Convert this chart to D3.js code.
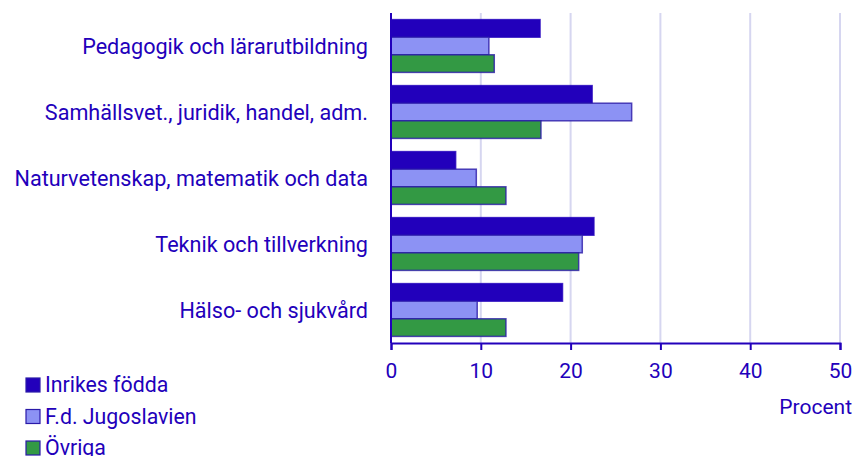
<!DOCTYPE html>
<html>
<head>
<meta charset="utf-8">
<script src="https://cdn.jsdelivr.net/npm/d3@7"></script>
<style>
  body { margin: 0; background: #fff; }
  text { font-family: Roboto, sans-serif; }
</style>
</head>
<body>
<svg id="chart" width="855" height="456"></svg>
<script>
// data
var categories = ["Pedagogik och lärarutbildning", "Samhällsvet., juridik, handel, adm.",
                  "Naturvetenskap, matematik och data", "Teknik och tillverkning", "Hälso- och sjukvård"];
var seriesNames = ["Inrikes födda", "F.d. Jugoslavien", "Övriga"];
var inrikes = [16.6, 22.4, 7.2, 22.6, 19.1];
var jugoslavien = [10.9, 26.8, 9.5, 21.3, 9.6];
var ovriga = [11.5, 16.7, 12.8, 20.9, 12.8];
var xTicks = [0, 10, 20, 30, 40, 50];

var colors = ["#2200bb", "#8c92f4", "#339944"],
    ink = "#2200bb",
    grid = "#d6d6f0",
    fontSize = "21px";

var svg = d3.select("#chart");
var plotLeft = 391, plotRight = 840, plotTop = 13, plotBottom = 343;

var x = d3.scaleLinear().domain([0, 50]).range([plotLeft, plotRight]);
var y = d3.scaleBand().domain(categories).range([plotTop, plotBottom])
    .paddingInner(0.2).paddingOuter(0.1);
var ySub = d3.scaleBand().domain(seriesNames).range([0, y.bandwidth()]);

var values = [inrikes, jugoslavien, ovriga];

// grid
svg.append("g").selectAll("line")
    .data(xTicks.slice(1))
    .join("line")
    .attr("x1", function(d) { return x(d); })
    .attr("x2", function(d) { return x(d); })
    .attr("y1", plotTop)
    .attr("y2", plotBottom)
    .style("stroke", grid)
    .style("stroke-width", 2);

// bars
categories.forEach(function(c, i) {
    var g = svg.append("g").attr("transform", "translate(0," + y(c) + ")");
    seriesNames.forEach(function(s, j) {
        g.append("rect")
            .attr("x", x(0))
            .attr("y", ySub(s))
            .attr("width", x(values[j][i]) - x(0))
            .attr("height", ySub.bandwidth())
            .style("fill", colors[j])
            .style("stroke", j == 0 ? colors[0] : "#2a1aa8")
            .style("stroke-width", 1.5)
            .style("stroke-opacity", 0.8);
    });
    svg.append("text")
        .attr("x", 368)
        .attr("y", y(c) + y.bandwidth() / 2)
        .attr("dy", "0.35em")
        .attr("text-anchor", "end")
        .style("fill", ink)
        .style("font-size", "21.6px")
        .text(c);
});

// axes
svg.append("line")
    .attr("x1", x(0)).attr("x2", x(0))
    .attr("y1", plotTop).attr("y2", plotBottom)
    .style("stroke", ink).style("stroke-width", 2);

var xAxis = svg.append("g")
    .attr("transform", "translate(0," + plotBottom + ")")
    .call(d3.axisBottom(x).tickValues(xTicks).tickSize(7).tickPadding(13));
xAxis.select(".domain").style("stroke", ink).style("stroke-width", 2);
xAxis.selectAll(".tick line").style("stroke", ink).style("stroke-width", 2);
xAxis.selectAll(".tick text")
    .style("fill", ink)
    .style("font-size", fontSize)
    .style("font-family", "Roboto, sans-serif");

svg.append("text")
    .attr("x", 852)
    .attr("y", 407)
    .attr("dy", "0.35em")
    .attr("text-anchor", "end")
    .style("fill", ink)
    .style("font-size", fontSize)
    .text("Procent");

// legend
var legend = svg.append("g").selectAll("g")
    .data(seriesNames)
    .join("g")
    .attr("transform", function(d, i) { return "translate(26," + (378 + i * 31.5) + ")"; });
legend.append("rect")
    .attr("width", 14)
    .attr("height", 14)
    .style("fill", function(d, i) { return colors[i]; })
    .style("stroke", "#2a1aa8")
    .style("stroke-width", 1.2);
legend.append("text")
    .attr("x", 19)
    .attr("y", 7)
    .attr("dy", "0.35em")
    .style("fill", ink)
    .style("font-size", "21.3px")
    .text(function(d) { return d; });
</script>
</body>
</html>
